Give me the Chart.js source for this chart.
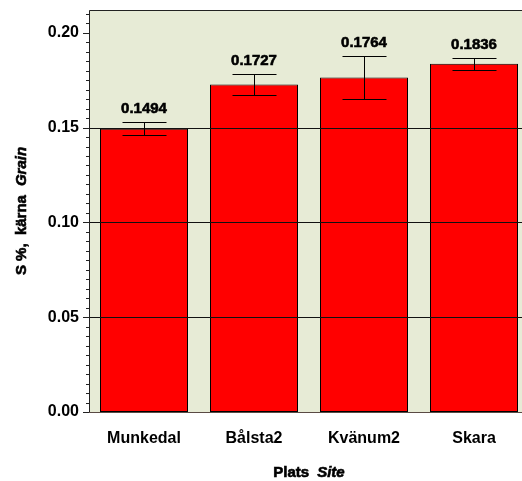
<!DOCTYPE html>
<html>
<head>
<meta charset="utf-8">
<script src="https://cdn.jsdelivr.net/npm/chart.js@4"></script>
<style>
  html, body { margin: 0; padding: 0; background: #ffffff; overflow: hidden; }
  #wrap { position: relative; width: 540px; height: 481px; }
</style>
</head>
<body>
<div id="wrap"><canvas id="c"></canvas></div>
<script>
// Sulphur content in grain per site, with error bars
const categories = ['Munkedal', 'Bålsta2', 'Kvänum2', 'Skara'];
const means = [0.1494, 0.1727, 0.1764, 0.1836];
const errors = [0.0033, 0.0056, 0.0115, 0.0032];
const yTickValues = [0, 0.05, 0.10, 0.15, 0.20];
const gridValues = [0.05, 0.10, 0.15];
const minorStep = 0.005;
const yMax = 0.212;

const FONT = '"Liberation Sans", Arial, Helvetica, sans-serif';
const PLOT_BG = '#E7EBD6';

function boldText(ctx, text, x, y) {
  ctx.fillText(text, x, y);
  ctx.lineWidth = 0.6;
  ctx.strokeStyle = ctx.fillStyle;
  ctx.strokeText(text, x, y);
}

const overlay = {
  id: 'overlay',
  beforeDraw(chart) {
    const { ctx, chartArea: a } = chart;
    ctx.save();
    ctx.fillStyle = '#ffffff';
    ctx.fillRect(0, 0, chart.width, chart.height);
    ctx.fillStyle = PLOT_BG;
    ctx.fillRect(a.left, a.top, a.right - a.left, a.bottom - a.top);
    ctx.restore();
  },
  afterDatasetsDraw(chart) {
    const { ctx, chartArea: a, scales } = chart;
    const y = scales.y;
    ctx.save();
    // horizontal reference lines over the bars
    ctx.strokeStyle = '#111111';
    ctx.lineWidth = 1;
    gridValues.forEach(v => {
      const py = Math.round(y.getPixelForValue(v)) + 0.5;
      ctx.beginPath();
      ctx.moveTo(a.left, py);
      ctx.lineTo(a.right, py);
      ctx.stroke();
    });
    // error bars and value labels
    const meta = chart.getDatasetMeta(0);
    meta.data.forEach((bar, i) => {
      const cx = Math.round(bar.x) + 0.5;
      const half = bar.width / 4;
      const top = Math.round(y.getPixelForValue(means[i] + errors[i])) + 0.5;
      const bot = Math.round(y.getPixelForValue(means[i] - errors[i])) + 0.5;
      ctx.strokeStyle = '#000000';
      ctx.lineWidth = 1;
      ctx.beginPath();
      ctx.moveTo(cx, top); ctx.lineTo(cx, bot);
      ctx.moveTo(cx - half, top); ctx.lineTo(cx + half, top);
      ctx.moveTo(cx - half, bot); ctx.lineTo(cx + half, bot);
      ctx.stroke();
      ctx.fillStyle = '#000000';
      ctx.font = 'bold 15px ' + FONT;
      ctx.textAlign = 'center';
      ctx.textBaseline = 'alphabetic';
      boldText(ctx, means[i].toFixed(4), bar.x, top - 10);
    });
    // frame: top, left, bottom
    ctx.lineWidth = 1;
    ctx.strokeStyle = '#222222';
    ctx.beginPath();
    ctx.moveTo(a.left + 0.5, a.bottom);
    ctx.lineTo(a.left + 0.5, a.top + 0.5);
    ctx.lineTo(a.right, a.top + 0.5);
    ctx.stroke();
    ctx.strokeStyle = '#5a4a44';
    ctx.beginPath();
    ctx.moveTo(a.left - 6, Math.round(a.bottom) + 0.5);
    ctx.lineTo(a.right, Math.round(a.bottom) + 0.5);
    ctx.stroke();
    // y tick marks: major and minor
    ctx.strokeStyle = '#222222';
    const n = Math.floor(yMax / minorStep + 1e-9);
    for (let k = 0; k <= n; k++) {
      const v = k * minorStep;
      const py = Math.round(y.getPixelForValue(v)) + 0.5;
      const major = k % 10 === 0;
      ctx.beginPath();
      ctx.moveTo(a.left - (major ? 6 : 3), py);
      ctx.lineTo(a.left, py);
      ctx.stroke();
    }
    ctx.restore();
  },
  afterDraw(chart) {
    const { ctx, chartArea: a } = chart;
    ctx.save();
    ctx.fillStyle = '#000000';
    ctx.textBaseline = 'middle';
    // x axis title: "Plats Site"
    const cx = (a.left + a.right) / 2;
    const ty = 473;
    ctx.font = 'bold 15px ' + FONT;
    const w1 = ctx.measureText('Plats').width;
    ctx.font = 'italic bold 15px ' + FONT;
    const w2 = ctx.measureText('Site').width;
    const gap = 8;
    const sx = cx - (w1 + gap + w2) / 2;
    ctx.textAlign = 'left';
    ctx.font = 'bold 15px ' + FONT;
    boldText(ctx, 'Plats', sx, ty);
    ctx.font = 'italic bold 15px ' + FONT;
    boldText(ctx, 'Site', sx + w1 + gap, ty);
    // y axis title: "S %, kärna Grain"
    ctx.translate(22, (a.top + a.bottom) / 2);
    ctx.rotate(-Math.PI / 2);
    ctx.font = 'bold 15px ' + FONT;
    const t1 = 'S %,  kärna';
    const u1 = ctx.measureText(t1).width;
    ctx.font = 'italic bold 15px ' + FONT;
    const u2 = ctx.measureText('Grain').width;
    const g2 = 9;
    const px = -(u1 + g2 + u2) / 2;
    ctx.font = 'bold 15px ' + FONT;
    boldText(ctx, t1, px, 0);
    ctx.font = 'italic bold 15px ' + FONT;
    boldText(ctx, 'Grain', px + u1 + g2, 0);
    ctx.restore();
  }
};

new Chart(document.getElementById('c'), {
  type: 'bar',
  data: {
    labels: categories,
    datasets: [{
      data: means,
      backgroundColor: '#FF0000',
      borderColor: '#000000',
      borderWidth: 1,
      borderSkipped: false,
      barPercentage: 0.8,
      categoryPercentage: 1.0
    }]
  },
  options: {
    responsive: true,
    maintainAspectRatio: false,
    animation: false,
    layout: { padding: { top: 10, right: 11, left: 0, bottom: 0 } },
    plugins: { legend: { display: false }, tooltip: { enabled: false } },
    scales: {
      x: {
        grid: { display: false, drawTicks: false },
        border: { display: false },
        ticks: {
          color: '#000000',
          font: { family: FONT, size: 16, weight: 'bold' },
          padding: 17,
          maxRotation: 0
        },
        afterFit(scale) {
          scale.height = 69;
          scale.paddingLeft = 0;
          scale.paddingRight = 0;
        }
      },
      y: {
        min: 0,
        max: yMax,
        grid: { display: false, drawTicks: false },
        border: { display: false },
        afterBuildTicks(scale) {
          scale.ticks = yTickValues.map(v => ({ value: v }));
        },
        ticks: {
          color: '#000000',
          font: { family: FONT, size: 16, weight: 'bold' },
          padding: 10,
          callback: v => Number(v).toFixed(2)
        },
        afterFit(scale) {
          scale.width = 89;
          scale.paddingTop = 0;
          scale.paddingBottom = 0;
        }
      }
    }
  },
  plugins: [overlay]
});
</script>
</body>
</html>
